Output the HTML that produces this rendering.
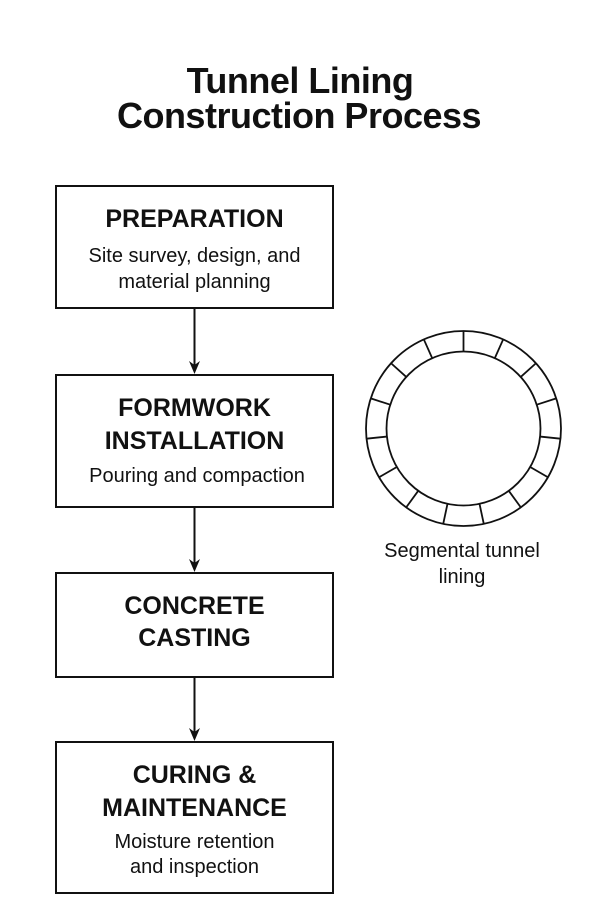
<!DOCTYPE html>
<html>
<head>
<meta charset="utf-8">
<style>
html,body{margin:0;padding:0;background:#fff;}
svg{display:block;}
text{font-family:"Liberation Sans",Arial,sans-serif;fill:#111;}
.h{font-weight:bold;font-size:25px;}
.s{font-size:20px;}
.t{font-weight:bold;font-size:36px;letter-spacing:-0.5px;}
</style>
</head>
<body>
<svg width="600" height="900" viewBox="0 0 600 900" xmlns="http://www.w3.org/2000/svg">
  <rect x="0" y="0" width="600" height="900" fill="#fff"/>
  <!-- Title -->
  <text class="t" x="300" y="93" text-anchor="middle">Tunnel Lining</text>
  <text class="t" x="299" y="128" text-anchor="middle">Construction Process</text>

  <!-- Boxes -->
  <g fill="none" stroke="#111" stroke-width="2">
    <rect x="56" y="186" width="277" height="122"/>
    <rect x="56" y="375" width="277" height="132"/>
    <rect x="56" y="573" width="277" height="104"/>
    <rect x="56" y="742" width="277" height="151"/>
  </g>

  <!-- Arrows -->
  <g stroke="#111" stroke-width="2">
    <line x1="194.5" y1="309" x2="194.5" y2="368"/>
    <line x1="194.5" y1="508" x2="194.5" y2="566"/>
    <line x1="194.5" y1="678" x2="194.5" y2="735"/>
  </g>
  <g fill="#111">
    <path d="M189,361 L194.5,374 L200,361 L194.5,365 Z"/>
    <path d="M189,559 L194.5,572 L200,559 L194.5,563 Z"/>
    <path d="M189,728 L194.5,741 L200,728 L194.5,732 Z"/>
  </g>

  <!-- Box 1 -->
  <text class="h" x="194.5" y="227" text-anchor="middle">PREPARATION</text>
  <text class="s" x="194.5" y="262" text-anchor="middle">Site survey, design, and</text>
  <text class="s" x="194.5" y="288" text-anchor="middle">material planning</text>

  <!-- Box 2 -->
  <text class="h" x="194.5" y="416" text-anchor="middle">FORMWORK</text>
  <text class="h" x="194.5" y="449" text-anchor="middle">INSTALLATION</text>
  <text class="s" x="197" y="482" text-anchor="middle">Pouring and compaction</text>

  <!-- Box 3 -->
  <text class="h" x="194.5" y="614" text-anchor="middle">CONCRETE</text>
  <text class="h" x="194.5" y="646" text-anchor="middle">CASTING</text>

  <!-- Box 4 -->
  <text class="h" x="194.5" y="783" text-anchor="middle">CURING &amp;</text>
  <text class="h" x="194.5" y="816" text-anchor="middle">MAINTENANCE</text>
  <text class="s" x="194.5" y="848" text-anchor="middle">Moisture retention</text>
  <text class="s" x="194.5" y="873" text-anchor="middle">and inspection</text>

  <!-- Segmental ring -->
  <g transform="translate(463.5,428.5)" fill="none" stroke="#111" stroke-width="1.8">
    <circle cx="0" cy="0" r="97.5"/>
    <circle cx="0" cy="0" r="77"/>
    <g>
      <line x1="0" y1="-77" x2="0" y2="-97.5" transform="rotate(0)"/>
      <line x1="0" y1="-77" x2="0" y2="-97.5" transform="rotate(24)"/>
      <line x1="0" y1="-77" x2="0" y2="-97.5" transform="rotate(48)"/>
      <line x1="0" y1="-77" x2="0" y2="-97.5" transform="rotate(72)"/>
      <line x1="0" y1="-77" x2="0" y2="-97.5" transform="rotate(96)"/>
      <line x1="0" y1="-77" x2="0" y2="-97.5" transform="rotate(120)"/>
      <line x1="0" y1="-77" x2="0" y2="-97.5" transform="rotate(144)"/>
      <line x1="0" y1="-77" x2="0" y2="-97.5" transform="rotate(168)"/>
      <line x1="0" y1="-77" x2="0" y2="-97.5" transform="rotate(192)"/>
      <line x1="0" y1="-77" x2="0" y2="-97.5" transform="rotate(216)"/>
      <line x1="0" y1="-77" x2="0" y2="-97.5" transform="rotate(240)"/>
      <line x1="0" y1="-77" x2="0" y2="-97.5" transform="rotate(264)"/>
      <line x1="0" y1="-77" x2="0" y2="-97.5" transform="rotate(288)"/>
      <line x1="0" y1="-77" x2="0" y2="-97.5" transform="rotate(312)"/>
      <line x1="0" y1="-77" x2="0" y2="-97.5" transform="rotate(336)"/>
    </g>
  </g>
  <text class="s" x="462" y="557" text-anchor="middle">Segmental tunnel</text>
  <text class="s" x="462" y="583" text-anchor="middle">lining</text>
</svg>
</body>
</html>
